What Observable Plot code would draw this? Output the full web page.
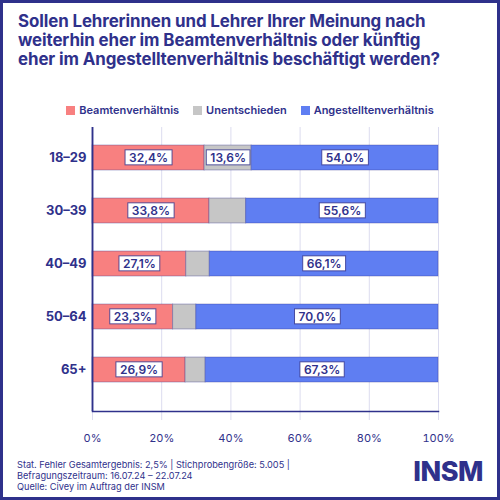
<!DOCTYPE html>
<html>
<head>
<meta charset="utf-8">
<script src="https://cdn.jsdelivr.net/npm/d3@7"></script>
<script src="https://cdn.jsdelivr.net/npm/@observablehq/plot@0.6"></script>
<style>
  html, body { margin: 0; padding: 0; background: #fff; }
  #wrap { position: relative; width: 500px; height: 500px; overflow: hidden; font-family: Inter, "DejaVu Sans", sans-serif; color: #2f318b; }
  #border { position: absolute; left: 0; top: 0; width: 500px; height: 500px; box-sizing: border-box; border: 3px solid #2f318b; pointer-events: none; }
  #title { position: absolute; left: 18px; top: 12px; font-size: 16.9px; font-weight: 700; line-height: 19px; letter-spacing: -0.1px; white-space: nowrap; }
  #legend { position: absolute; top: 103px; left: 0; width: 500px; display: flex; justify-content: center; gap: 14px; font-size: 11px; font-weight: 600; }
  #legend .item { display: flex; align-items: center; gap: 4px; }
  #legend .sw { width: 9px; height: 9px; display: inline-block; }
  #chart { position: absolute; top: 118px; left: 0; }
  #footer { position: absolute; left: 17px; top: 459px; font-size: 9.2px; line-height: 11px; white-space: nowrap; }
  #logo { position: absolute; right: 17px; top: 455px; font-size: 27px; font-weight: 800; letter-spacing: -0.5px; }
</style>
</head>
<body>
<div id="wrap">
  <div id="title">Sollen Lehrerinnen und Lehrer Ihrer Meinung nach<br>weiterhin eher im Beamtenverhältnis oder künftig<br>eher im Angestelltenverhältnis beschäftigt werden?</div>
  <div id="legend"></div>
  <div id="chart"></div>
  <div id="footer">Stat. Fehler Gesamtergebnis: 2,5% | Stichprobengröße: 5.005 |<br>Befragungszeitraum: 16.07.24 – 22.07.24<br>Quelle: Civey im Auftrag der INSM</div>
  <div id="logo">INSM</div>
  <div id="border"></div>
</div>
<script>
const navy = "#2f318b";
const categories = ["18–29", "30–39", "40–49", "50–64", "65+"];
const seriesNames = ["Beamtenverhältnis", "Unentschieden", "Angestelltenverhältnis"];
const seriesColors = ["#f88080", "#c6c6c6", "#5f7ef2"];
const beamte = [32.4, 33.8, 27.1, 23.3, 26.9];
const unentschieden = [13.6, 10.6, 6.8, 6.7, 5.8];
const angestellte = [54.0, 55.6, 66.1, 70.0, 67.3];
const xTicks = [0, 20, 40, 60, 80, 100];

const seriesValues = [beamte, unentschieden, angestellte];
const data = [];
categories.forEach((c, i) => {
  seriesNames.forEach((s, j) => {
    data.push({age: c, series: s, value: seriesValues[j][i]});
  });
});

// legend
const legend = document.getElementById("legend");
seriesNames.forEach((s, j) => {
  const item = document.createElement("div");
  item.className = "item";
  item.innerHTML = `<span class="sw" style="background:${seriesColors[j]}"></span><span>${s}</span>`;
  legend.appendChild(item);
});

const fmt = v => v.toFixed(1).replace(".", ",") + "%";

const plot = Plot.plot({
  width: 500,
  height: 332,
  marginLeft: 92,
  marginRight: 62,
  marginTop: 9,
  marginBottom: 39,
  style: {fontFamily: "Inter, 'DejaVu Sans', sans-serif", color: navy, background: "transparent"},
  x: {domain: [0, 100], label: null},
  y: {domain: categories, range: [25, 265], paddingInner: 0.537, paddingOuter: 0, label: null},
  color: {domain: seriesNames, range: seriesColors},
  marks: [
    Plot.gridX(xTicks, {stroke: "#dcdcef", strokeOpacity: 1, strokeWidth: 1}),
    Plot.axisX(xTicks, {tickSize: 9, stroke: "#dcdcef", tickPadding: 14, tickFormat: d => d + "%", fontSize: 11, fill: navy, label: null}),
    Plot.axisY({tickSize: 0, tickPadding: 6, fontSize: 13, fontWeight: 700, fill: navy, label: null}),
    Plot.barX(data, Plot.stackX({x: "value", y: "age", fill: "series", z: "series", stroke: navy, strokeOpacity: 0.35, strokeWidth: 1})),
    Plot.text(data, Plot.stackX({
      x: "value", y: "age", z: "series",
      text: d => d.value >= 11 ? fmt(d.value) : null,
      fill: navy, fontSize: 12, fontWeight: 600, className: "vlabel"
    })),
    Plot.frame({anchor: "bottom", stroke: navy, strokeWidth: 1.5}),
    Plot.ruleX([0], {stroke: navy, strokeWidth: 1.5}),
    Plot.tickX([0], {stroke: navy, strokeWidth: 1.5, dy: 0})
  ]
});
document.getElementById("chart").appendChild(plot);

// white boxes behind value labels
d3.select(plot).selectAll("g.vlabel text").each(function() {
  const bb = this.getBBox();
  const parent = this.parentNode;
  const r = document.createElementNS("http://www.w3.org/2000/svg", "rect");
  r.setAttribute("x", bb.x - 4);
  r.setAttribute("y", bb.y);
  r.setAttribute("width", bb.width + 8);
  r.setAttribute("height", bb.height);
  r.setAttribute("fill", "#fff");
  r.setAttribute("stroke", navy);
  r.setAttribute("stroke-opacity", 0.8);
  r.setAttribute("stroke-width", 1);
  const t = this.getAttribute("transform");
  if (t) r.setAttribute("transform", t);
  parent.insertBefore(r, this);
});
</script>
</body>
</html>
